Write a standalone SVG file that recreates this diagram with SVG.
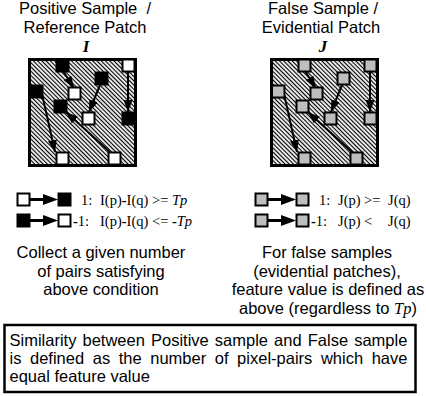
<svg xmlns="http://www.w3.org/2000/svg" width="426" height="396" viewBox="0 0 426 396">
  <defs>
    <pattern id="hatch" width="3" height="3" patternUnits="userSpaceOnUse" patternTransform="rotate(45)">
      <rect width="3" height="3" fill="#fff"/>
      <line x1="0" y1="1.5" x2="3" y2="1.5" stroke="#000" stroke-width="1.2"/>
    </pattern>
    <marker id="ah" markerWidth="12" markerHeight="9" refX="12" refY="4.5" orient="auto" markerUnits="userSpaceOnUse">
      <path d="M0,0 L12,4.5 L0,9 z" fill="#000"/>
    </marker>
  </defs>
  <style>
    .sans { font-family: "Liberation Sans", Arial, sans-serif; font-size: 16.5px; fill: #000; }
    .serif { font-family: "Liberation Serif", "Times New Roman", serif; font-size: 14.5px; fill: #000; }
    .sym { font-family: "Liberation Serif", "Times New Roman", serif; font-size: 17px; font-weight: bold; font-style: italic; fill: #000; }
    .patch { fill: url(#hatch); stroke: #000; stroke-width: 3; }
    .px { stroke: #000; stroke-width: 2; }
    .blk { fill: #000; }
    .wht { fill: #fff; }
    .gry { fill: #bebebe; }
    .conn { stroke: #000; stroke-width: 2; fill: none; marker-end: url(#ah); }
    .lg { stroke: #000; stroke-width: 3; }
    .b { font-weight: bold; }
    .i { font-style: italic; }
  </style>

  <!-- titles -->
  <g id="title-I">
    <text class="sans" x="85" y="14" text-anchor="middle">Positive Sample&#160; /</text>
    <text class="sans" x="85" y="33" text-anchor="middle">Reference Patch</text>
    <text class="sym" x="86" y="52" text-anchor="middle">I</text>
  </g>
  <g id="title-J">
    <text class="sans" x="323" y="14" text-anchor="middle">False Sample /</text>
    <text class="sans" x="321" y="33" text-anchor="middle">Evidential Patch</text>
    <text class="sym" x="323" y="52" text-anchor="middle">J</text>
  </g>

  <!-- patch I (reference) -->
  <g id="patch-I">
    <rect class="patch" x="29.5" y="59.5" width="106" height="106"/>
  </g>
  <!-- patch J (evidential) -->
  <g id="patch-J">
    <rect class="patch" x="271.5" y="59.5" width="106" height="106"/>
  </g>

  <!-- pixel-pair connectors -->
  <g id="connectors">
    <line class="conn" x1="63" y1="71" x2="74" y2="88"/>
    <line class="conn" x1="100" y1="85" x2="89" y2="112"/>
    <line class="conn" x1="128" y1="72" x2="128" y2="112"/>
    <line class="conn" x1="42" y1="94" x2="55" y2="152"/>
    <line class="conn" x1="110" y1="152" x2="66" y2="112"/>
    <g transform="translate(242,0)">
      <line class="conn" x1="63" y1="71" x2="74" y2="88"/>
      <line class="conn" x1="100" y1="85" x2="89" y2="112"/>
      <line class="conn" x1="128" y1="72" x2="128" y2="112"/>
      <line class="conn" x1="42" y1="94" x2="55" y2="152"/>
      <line class="conn" x1="110" y1="152" x2="66" y2="112"/>
    </g>
  </g>

  <!-- pixels of patch I -->
  <g id="pixels-I">
    <rect class="px blk" x="56.5" y="59.5" width="12" height="12"/>
    <rect class="px wht" x="122.5" y="59.5" width="12" height="12"/>
    <rect class="px blk" x="30" y="85.5" width="12.5" height="12"/>
    <rect class="px wht" x="68.5" y="87.5" width="12" height="12"/>
    <rect class="px blk" x="95.5" y="72.5" width="12" height="12"/>
    <rect class="px blk" x="54.5" y="100.5" width="12" height="12"/>
    <rect class="px wht" x="82.5" y="112.5" width="12" height="12"/>
    <rect class="px blk" x="122.5" y="112.5" width="12" height="12"/>
    <rect class="px wht" x="56.5" y="152.5" width="12" height="12"/>
    <rect class="px wht" x="108.5" y="152.5" width="12" height="12"/>
  </g>
  <!-- pixels of patch J -->
  <g id="pixels-J" transform="translate(242,0)">
    <rect class="px gry" x="56.5" y="59.5" width="12" height="12"/>
    <rect class="px gry" x="122.5" y="59.5" width="12" height="12"/>
    <rect class="px gry" x="30" y="85.5" width="12.5" height="12"/>
    <rect class="px gry" x="68.5" y="87.5" width="12" height="12"/>
    <rect class="px gry" x="95.5" y="72.5" width="12" height="12"/>
    <rect class="px gry" x="54.5" y="100.5" width="12" height="12"/>
    <rect class="px gry" x="82.5" y="112.5" width="12" height="12"/>
    <rect class="px gry" x="122.5" y="112.5" width="12" height="12"/>
    <rect class="px gry" x="56.5" y="152.5" width="12" height="12"/>
    <rect class="px gry" x="108.5" y="152.5" width="12" height="12"/>
  </g>

  <!-- legend for I -->
  <g id="legend-I">
    <rect class="px wht" x="17.5" y="193.5" width="12" height="12"/>
    <line class="lg" x1="30" y1="199.5" x2="45" y2="199.5"/>
    <polygon points="43,194 58,199.5 43,205" fill="#000"/>
    <rect class="px blk" x="58.5" y="193.5" width="12" height="12"/>
    <text class="serif" y="204.5"><tspan x="81">1:</tspan><tspan x="100">I(p)</tspan><tspan class="b">-</tspan><tspan>I(q) &gt;= </tspan><tspan class="i">Tp</tspan></text>

    <rect class="px blk" x="17.5" y="214.5" width="12" height="12"/>
    <line class="lg" x1="30" y1="220.5" x2="45" y2="220.5"/>
    <polygon points="43,215 58,220.5 43,226" fill="#000"/>
    <rect class="px wht" x="58.5" y="214.5" width="12" height="12"/>
    <text class="serif" y="225.5"><tspan x="73" class="b">-</tspan><tspan>1:</tspan><tspan x="100">I(p)</tspan><tspan class="b">-</tspan><tspan>I(q) &lt;= </tspan><tspan class="b">-</tspan><tspan class="i">Tp</tspan></text>
  </g>

  <!-- legend for J -->
  <g id="legend-J">
    <rect class="px gry" x="255.5" y="193.5" width="12" height="12"/>
    <line class="lg" x1="268" y1="199.5" x2="283" y2="199.5"/>
    <polygon points="281,194 296,199.5 281,205" fill="#000"/>
    <rect class="px gry" x="296.5" y="193.5" width="12" height="12"/>
    <text class="serif" y="204.5"><tspan x="319">1:</tspan><tspan x="338">J(p)</tspan><tspan x="364">&gt;=</tspan><tspan x="388">J(q)</tspan></text>

    <rect class="px gry" x="255.5" y="214.5" width="12" height="12"/>
    <line class="lg" x1="268" y1="220.5" x2="283" y2="220.5"/>
    <polygon points="281,215 296,220.5 281,226" fill="#000"/>
    <rect class="px gry" x="296.5" y="214.5" width="12" height="12"/>
    <text class="serif" y="225.5"><tspan x="311" class="b">-</tspan><tspan>1:</tspan><tspan x="338">J(p)</tspan><tspan x="364">&lt;</tspan><tspan x="388">J(q)</tspan></text>
  </g>

  <!-- notes -->
  <g id="note-I">
    <text class="sans" x="101" y="258" text-anchor="middle">Collect a given number</text>
    <text class="sans" x="101" y="276.5" text-anchor="middle">of pairs satisfying</text>
    <text class="sans" x="101" y="295" text-anchor="middle">above condition</text>
  </g>
  <g id="note-J">
    <text class="sans" x="327" y="258" text-anchor="middle">For false samples</text>
    <text class="sans" x="327" y="276.5" text-anchor="middle">(evidential patches),</text>
    <text class="sans" x="328" y="295" text-anchor="middle">feature value is defined as</text>
    <text class="sans" x="328" y="313.5" text-anchor="middle">above (regardless to <tspan font-family="Liberation Serif, serif" font-style="italic">Tp</tspan>)</text>
  </g>

  <!-- similarity definition -->
  <g id="similarity">
    <rect x="4.5" y="325" width="411" height="67" fill="#fff" stroke="#000" stroke-width="2.5"/>
    <text class="sans" x="9.5" y="346" style="word-spacing:1.5px">Similarity between Positive sample and False sample</text>
    <text class="sans" x="9.5" y="364" style="word-spacing:4px">is defined as the number of pixel-pairs which have</text>
    <text class="sans" x="9.5" y="382">equal feature value</text>
  </g>
</svg>
